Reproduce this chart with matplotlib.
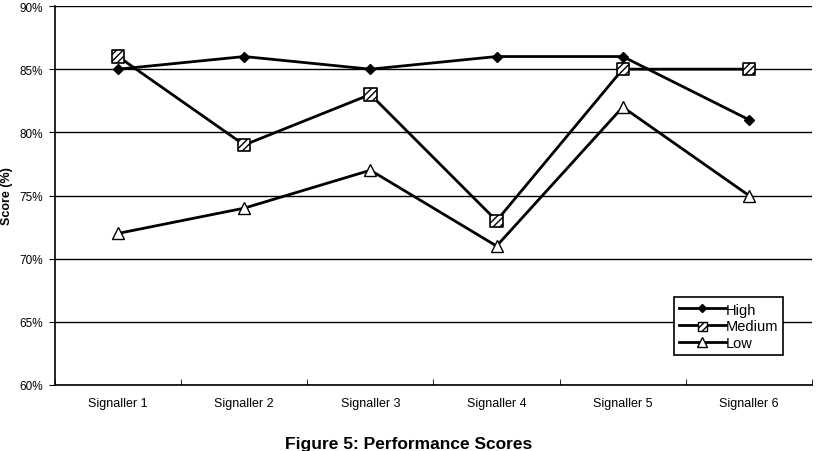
import matplotlib.pyplot as plt
from matplotlib.ticker import PercentFormatter
from matplotlib.legend_handler import HandlerTuple

plt.rcParams['font.family'] = ['Liberation Sans', 'DejaVu Sans']
plt.rcParams['hatch.linewidth'] = 1.0

categories = ["Signaller 1", "Signaller 2", "Signaller 3", "Signaller 4", "Signaller 5", "Signaller 6"]
high = [85, 86, 85, 86, 86, 81]
medium = [86, 79, 83, 73, 85, 85]
low = [72, 74, 77, 71, 82, 75]

fig = plt.figure(figsize=(8.17, 4.52), dpi=100)
ax = fig.add_axes([55/817, 1 - 386/452, 757/817, 379/452])

x = range(len(categories))
h1, = ax.plot(x, high, color='black', lw=2, marker='D', ms=5, mfc='black', mec='black', label='High', zorder=3)
h2, = ax.plot(x, medium, color='black', lw=2, label='Medium', zorder=4)
h3, = ax.plot(x, low, color='black', lw=2, marker='^', ms=8, mfc='white', mec='black', mew=1,
              label='Low', zorder=3)

# hatched squares for Medium
sq = ax.scatter(x, medium, marker='s', s=80, facecolor='white', edgecolor='black', hatch='/////',
                linewidths=1.2, zorder=5)

ax.set_xlim(-0.5, len(categories) - 0.5)
ax.set_ylim(60, 90)
ax.set_yticks(range(60, 91, 5))
ax.yaxis.set_major_formatter(PercentFormatter(decimals=0))
ax.set_xticks(list(x))
ax.set_xticklabels(categories)
ax.set_xticks([i + 0.5 for i in range(-1, len(categories))], minor=True)
ax.tick_params(axis='x', which='major', length=0, pad=9, labelsize=9)
ax.tick_params(axis='x', which='minor', length=4, direction='in')
ax.tick_params(axis='y', length=4, labelsize=8.5, direction='out', pad=5)

ax.yaxis.grid(True, color='black', lw=1)
ax.set_axisbelow(True)
for side in ['top', 'right']:
    ax.spines[side].set_visible(False)
ax.spines['left'].set_linewidth(1.2)
ax.spines['bottom'].set_linewidth(1.2)

ax.set_ylabel("Score (%)", fontsize=9, fontweight='bold', labelpad=4)

sq_leg = ax.scatter([], [], marker='s', s=55, facecolor='white', edgecolor='black', hatch='/////',
                    linewidths=1)
leg = ax.legend([h1, (h2, sq_leg), h3], ['High', 'Medium', 'Low'],
                handler_map={tuple: HandlerTuple(ndivide=1)},
                loc='lower right', bbox_to_anchor=(0.962, 0.078), frameon=True, fancybox=False,
                edgecolor='black', fontsize=10.5, handlelength=3.2, handletextpad=0.0,
                borderpad=0.35, borderaxespad=0.0, labelspacing=0.2, markerscale=0.9)
leg.get_frame().set_linewidth(1.2)
leg.get_frame().set_alpha(1)

fig.text(0.5, 1 - 445/452, "Figure 5: Performance Scores", ha='center', va='center',
         fontsize=12.5, fontweight='bold')

fig.savefig("out.png", dpi=100)
